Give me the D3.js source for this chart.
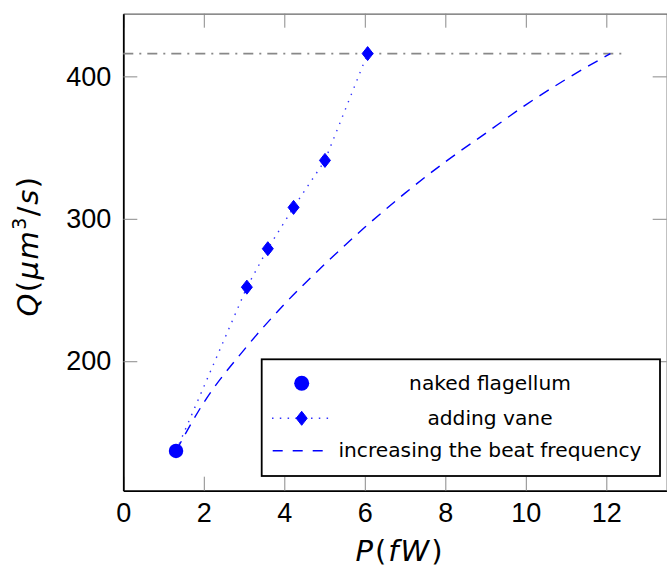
<!doctype html>
<html>
<head>
<style>
  body { margin: 0; background: #fff; }
  svg { display: block; }
  .tick text { font-family: "Liberation Sans", Arial, sans-serif; font-size: 27px; fill: #000; }
  .legend text { font-family: "DejaVu Sans", sans-serif; font-size: 20.2px; fill: #000; }
  .lbl { font-family: "DejaVu Sans", sans-serif; font-size: 29px; fill: #000; }
</style>
<script src="https://d3js.org/d3.v7.min.js"></script>
</head>
<body>
<div id="chart"></div>
<script>
// data
var nakedP = [1.31];
var nakedQ = [137];
var vaneP = [1.31, 3.07, 3.59, 4.23, 5.01, 6.07];
var vaneQ = [137, 252, 279, 308, 341, 416];
var freqP = [1.31, 2, 3, 4, 5, 6, 7, 8, 9, 10, 11, 12.1];
var freqQ = [137, 171, 208, 240, 268, 294, 318, 340, 360, 380, 398, 416];
var limitP = [0, 12.5];
var limitQ = 416;
var xTicks = [0, 2, 4, 6, 8, 10, 12];
var yTicks = [200, 300, 400];
var legendLabels = ["naked flagellum", "adding vane", "increasing the beat frequency"];

var W = 667, H = 569;
var plotL = 123.3, plotR = 666.7, plotT = 13.7, plotB = 490.7;

var svg = d3.select("#chart").append("svg")
  .attr("width", W).attr("height", H);

var x = d3.scaleLinear().domain([0, 13.5]).range([plotL, plotR]);
var y = d3.scaleLinear().domain([109.1, 444]).range([plotB, plotT]);

// axes (ticks point inward)
var gx = svg.append("g").attr("transform", "translate(0," + plotB + ")")
  .call(d3.axisBottom(x).tickValues(xTicks).tickSizeInner(-14).tickSizeOuter(0).tickPadding(12));
var gxt = svg.append("g").attr("transform", "translate(0," + plotT + ")")
  .call(d3.axisTop(x).tickValues(xTicks).tickSizeInner(-14).tickSizeOuter(0).tickFormat(""));
var gy = svg.append("g").attr("transform", "translate(" + plotL + ",0)")
  .call(d3.axisLeft(y).tickValues(yTicks).tickSizeInner(-14).tickSizeOuter(0).tickPadding(12));
var gyr = svg.append("g").attr("transform", "translate(" + plotR + ",0)")
  .call(d3.axisRight(y).tickValues(yTicks).tickSizeInner(-14).tickSizeOuter(0).tickFormat(""));

svg.selectAll(".tick line").attr("stroke", "#8a8a8a").attr("stroke-width", 1);
gxt.select(".domain").attr("stroke", "#666").attr("stroke-width", 1.2);
gyr.select(".domain").attr("stroke", "#666").attr("stroke-width", 1.2);
gx.select(".domain").attr("stroke", "#000").attr("stroke-width", 1.8);
gy.select(".domain").attr("stroke", "#000").attr("stroke-width", 1.8);

// limit line
svg.append("line")
  .attr("x1", x(limitP[0])).attr("x2", x(limitP[1]))
  .attr("y1", y(limitQ)).attr("y2", y(limitQ))
  .attr("stroke", "#888").attr("stroke-width", 1.6)
  .attr("stroke-dasharray", "10,6,2,6");

// increasing the beat frequency
var freq = freqP.map(function(p, i) { return [p, freqQ[i]]; });
svg.append("path")
  .datum(freq)
  .attr("fill", "none").attr("stroke", "#0000ff").attr("stroke-width", 1.4)
  .attr("stroke-dasharray", "11,8")
  .attr("d", d3.line().x(function(d) { return x(d[0]); }).y(function(d) { return y(d[1]); }).curve(d3.curveMonotoneX));

// adding vane
var vane = vaneP.map(function(p, i) { return [p, vaneQ[i]]; });
svg.append("path")
  .datum(vane)
  .attr("fill", "none").attr("stroke", "#3333ff").attr("stroke-width", 1.4)
  .attr("stroke-dasharray", "1.5,6.3")
  .attr("d", d3.line().x(function(d) { return x(d[0]); }).y(function(d) { return y(d[1]); }));

var diamond = "M0,-7 L5.5,0 L0,7 L-5.5,0 Z";
svg.selectAll(".dia")
  .data(vane.slice(1))
  .enter().append("path")
    .attr("d", diamond)
    .attr("transform", function(d) { return "translate(" + x(d[0]) + "," + y(d[1]) + ")"; })
    .attr("fill", "#0000ff").attr("stroke", "#0000ff").attr("stroke-width", 1);

// naked flagellum
svg.selectAll(".dot")
  .data(nakedP.map(function(p, i) { return [p, nakedQ[i]]; }))
  .enter().append("circle")
    .attr("cx", function(d) { return x(d[0]); })
    .attr("cy", function(d) { return y(d[1]); })
    .attr("r", 7.2)
    .attr("fill", "#0000ff");

// legend
var lg = svg.append("g").attr("class", "legend");
lg.append("rect")
  .attr("x", 261.7).attr("y", 359.3).attr("width", 398.3).attr("height", 116.7)
  .attr("fill", "#fff").attr("stroke", "#000").attr("stroke-width", 1.8);
var rowY = [383.3, 418.3, 450.7];
lg.append("circle").attr("cx", 301.7).attr("cy", rowY[0]).attr("r", 7.5).attr("fill", "#0000ff");
lg.append("line").attr("x1", 272).attr("x2", 331).attr("y1", rowY[1]).attr("y2", rowY[1])
  .attr("stroke", "#3333ff").attr("stroke-width", 1.4).attr("stroke-dasharray", "1.5,6.3");
lg.append("path").attr("d", diamond).attr("transform", "translate(301.7," + rowY[1] + ")")
  .attr("fill", "#0000ff").attr("stroke", "#0000ff");
lg.append("line").attr("x1", 272.7).attr("x2", 323.3).attr("y1", rowY[2]).attr("y2", rowY[2])
  .attr("stroke", "#0000ff").attr("stroke-width", 1.4).attr("stroke-dasharray", "10,10");
lg.selectAll("text.lab")
  .data(legendLabels)
  .enter().append("text")
    .attr("class", "lab")
    .attr("x", 490)
    .attr("y", function(d, i) { return rowY[i] + 6.5; })
    .attr("text-anchor", "middle")
    .text(function(d) { return d; });

// axis labels
var xl = svg.append("text").attr("class", "lbl")
  .attr("x", 400).attr("y", 561).attr("text-anchor", "middle")
  .attr("letter-spacing", 2);
xl.append("tspan").attr("font-style", "italic").text("P");
xl.append("tspan").text("(");
xl.append("tspan").attr("font-style", "italic").text("fW");
xl.append("tspan").text(")");

var yl = svg.append("text").attr("class", "lbl")
  .attr("transform", "translate(38,246) rotate(-90)")
  .attr("text-anchor", "middle")
  .attr("letter-spacing", 1.5);
yl.append("tspan").attr("font-style", "italic").text("Q");
yl.append("tspan").text("(");
yl.append("tspan").attr("font-style", "italic").text("\u03bcm");
yl.append("tspan").attr("font-size", "19px").attr("dy", -12).text("3");
yl.append("tspan").attr("dy", 12).text("/");
yl.append("tspan").attr("font-style", "italic").text("s");
yl.append("tspan").text(")");
</script>
</body>
</html>
